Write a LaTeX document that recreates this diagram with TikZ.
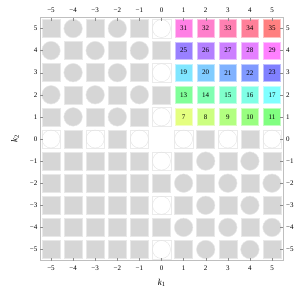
\documentclass[tikz,border=0pt]{standalone}
\usepackage{tikz}
\usepackage{fontspec}
\setmainfont{Liberation Serif}
\newcommand{\numlab}[1]{\ifnum#1<0 −\the\numexpr-#1\relax\else#1\fi}
\begin{document}
\begin{tikzpicture}[x=1pt,y=-1pt,
  gsq/.style={rectangle,fill=black!16,draw=black!9,line width=0.5pt,minimum size=18pt,inner sep=0pt},
  gci/.style={circle,fill=black!16,draw=black!9,line width=0.5pt,minimum size=18.5pt,inner sep=0pt},
  wsq/.style={rectangle,draw=black!8,line width=0.4pt,minimum size=18.5pt,inner sep=0pt},
  wci/.style={circle,draw=black!11,line width=0.4pt,minimum size=18pt,inner sep=0pt},
  csq/.style={rectangle,line width=0.6pt,minimum size=17.5pt,inner sep=0pt,font=\fontsize{7}{8}\selectfont},
  tlab/.style={font=\fontsize{7}{8}\selectfont,inner sep=0pt},
  tick/.style={black!45,line width=0.4pt},
  frame/.style={black!25,line width=0.6pt}]
\useasboundingbox (0,0) rectangle (305,295);
\foreach \i in {-5,...,5}{
 \foreach \j in {-5,...,5}{
  \pgfmathsetmacro\cx{161.5+22.1*\i}
  \pgfmathsetmacro\cy{139-22.1*\j}
  \pgfmathtruncatemacro\s{\i+\j}
  \ifnum\i>0 \ifnum\j>0
     \pgfmathtruncatemacro\n{6*\j+\i}
     \pgfmathtruncatemacro\h{72+12*(5*(\j-1)+\i-1)}
     \convertcolorspec{Hsb}{\h,0.5,1}{rgb}\mycol
     \definecolor{cc}{rgb}{\mycol}
     \node[csq,fill=cc,draw=cc!50!white] (c\n) at (\cx,\cy) {\n};
  \fi\fi
  \ifnum\i<0 \ifnum\j<0
     \node[gsq] (g\i\j) at (\cx,\cy) {};
  \fi\fi
  \ifnum\i=0 \ifnum\j=0 \else
     \ifodd\s
       \node[wsq] (ws\i\j) at (\cx,\cy) {};
       \node[wci] (wc\i\j) at (\cx,\cy) {};
     \else
       \node[gsq] (g\i\j) at (\cx,\cy) {};
     \fi
  \fi\else
   \ifnum\j=0
     \ifodd\s
       \node[wsq] (ws\i\j) at (\cx,\cy) {};
       \node[wci] (wc\i\j) at (\cx,\cy) {};
     \else
       \node[gsq] (g\i\j) at (\cx,\cy) {};
     \fi
   \else
     \pgfmathtruncatemacro\q{(\i>0)*(\j>0)+(\i<0)*(\j<0)}
     \ifnum\q=0
       \ifodd\s
         \node[gci] (g\i\j) at (\cx,\cy) {};
       \else
         \node[gsq] (g\i\j) at (\cx,\cy) {};
       \fi
     \fi
   \fi
  \fi
 }}
% frame
\draw[frame] (40,17.5) rectangle (283,260.5);
% ticks and labels
\foreach \k in {-5,...,5}{
  \pgfmathsetmacro\tx{161.5+22.1*\k}
  \pgfmathsetmacro\ty{139-22.1*\k}
  \draw[tick] (\tx,17.5) -- (\tx,20.5);
  \draw[tick] (\tx,260.5) -- (\tx,257.5);
  \draw[tick] (40,\ty) -- (43,\ty);
  \draw[tick] (283,\ty) -- (280,\ty);
  \node[tlab] (tt\k) at (\tx,10) {\numlab{\k}};
  \node[tlab] (tb\k) at (\tx,268.5) {\numlab{\k}};
  \node[tlab,anchor=east] (tl\k) at (37.5,\ty) {\numlab{\k}};
  \node[tlab,anchor=west] (tr\k) at (286,\ty) {\numlab{\k}};
}
\node[font=\fontsize{9}{10}\selectfont] (xl) at (161.5,283) {\textit{k}\raisebox{-1.6pt}{\fontsize{6.5}{7}\selectfont 1}};
\node[font=\fontsize{9}{10}\selectfont,rotate=90] (yl) at (15,139) {\textit{k}\raisebox{-1.6pt}{\fontsize{6.5}{7}\selectfont 2}};
\end{tikzpicture}
\end{document}
